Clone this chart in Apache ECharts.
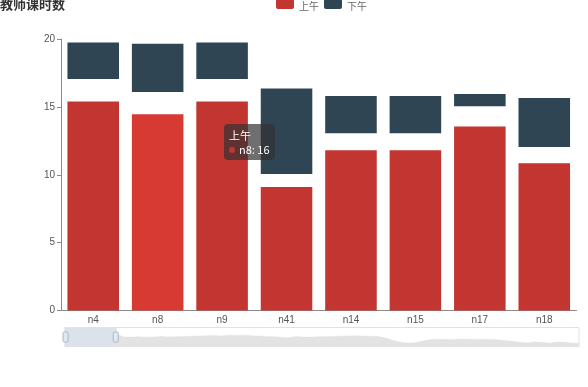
<!DOCTYPE html>
<html>
<head>
<meta charset="utf-8">
<script src="https://cdn.jsdelivr.net/npm/echarts@6/dist/echarts.min.js"></script>
<style>
html,body{margin:0;padding:0;background:#fff;}
#chart{width:588px;height:387px;}
</style>
</head>
<body>
<div id="chart"></div>
<script>
// Teacher names (first 8 visible in the zoom window; the rest only appear in the slider shadow)
const teachers = ['n4','n8','n9','n41','n14','n15','n17','n18',
  'n19','n20','n21','n22','n23','n24','n25','n26','n27','n28','n29',
  'n30','n31','n32','n33','n34','n35','n36','n37','n38','n39','n40',
  'n42','n43','n44','n45','n46','n47','n48','n49','n50','n51','n52',
  'n53','n54','n55','n56','n57','n58','n59','n60','n61','n62','n63',
  'n64','n65','n66','n67','n68','n69','n70','n71','n72','n73','n74',
  'n75','n76','n77','n78','n79','n80','n81'];
// 上午 (morning) values
const morning = [15.4, 14.45, 15.4, 9.1, 11.8, 11.8, 13.55, 10.85,
  8.0, 7.8, 8.2, 7.6, 8.0, 8.4, 7.9, 8.1, 8.5, 8.8, 9.0,
  9.4, 9.8, 9.2, 10.0, 9.6, 9.9, 9.3, 9.0,
  8.6, 8.2, 7.4, 6.8, 8.4,
  8.0, 7.8, 8.1, 8.3,
  8.6, 8.9, 9.1, 9.3, 9.0, 8.8, 8.5,
  6.5, 4.0, 1.5, 0.5, 0.8,
  3.0, 4.8, 5.2,
  5.0, 4.6, 5.4, 5.0, 4.8, 5.2, 4.9, 4.5,
  3.6, 2.6, 1.4, 0.6, 1.8, 1.6,
  0.4, 1.7, 1.8, 0.4, 0.3];
// blank space between the morning and afternoon blocks
const gap = [1.65, 1.65, 1.65, 0.95, 1.25, 1.25, 1.5, 1.2];
// 下午 (afternoon) values
const afternoon = [2.7, 3.55, 2.7, 6.3, 2.75, 2.75, 0.9, 3.6];
const yTicks = [0, 5, 10, 15, 20];
// text shown in the reference's hover tooltip
const tooltipSeries = '上午';
const tooltipCategory = 'n8';
const tooltipValue = 16;

const chart = echarts.init(document.getElementById('chart'));
const axisGrey = '#8a8a8a';
// rounded legend swatch in the upper part of the icon box (tiny point below keeps the box taller)
const legendIcon = 'path://M2,0 h14 a2,2 0 0 1 2,2 v6 a2,2 0 0 1 -2,2 h-14 a2,2 0 0 1 -2,-2 v-6 a2,2 0 0 1 2,-2 Z M9,14 h0.01 v0.01 h-0.01 Z';
const option = {
  animation: false,
  color: ['#c23531', '#2f4554'],
  title: {
    text: '教师课时数', left: 0, top: -2, padding: 0,
    textStyle: {fontSize: 13, fontWeight: 'bold', color: '#333', fontFamily: 'Noto Sans CJK SC'}
  },
  legend: {
    data: [{name: '上午', icon: legendIcon}, {name: '下午', icon: legendIcon}],
    left: 276, top: -1, padding: 0,
    itemWidth: 18, itemHeight: 14, itemGap: 5,
    textStyle: {fontSize: 10, color: '#666', fontFamily: 'Noto Sans CJK SC'}
  },
  tooltip: {
    trigger: 'item', alwaysShowContent: true, transitionDuration: 0,
    position: [224, 124],
    backgroundColor: 'rgba(50,50,50,0.7)', borderWidth: 0, padding: [4, 5],
    extraCssText: 'box-shadow:none;border-radius:4px;',
    textStyle: {color: '#fff', fontSize: 11},
    formatter: function () {
      return '<div style="font-size:11px;line-height:14px;color:#fff;font-family:Noto Sans CJK SC">' +
        tooltipSeries + '<br/><span style="display:inline-block;width:6px;height:6px;border-radius:50%;background:#c23531;margin-right:4px;vertical-align:1px"></span>' +
        tooltipCategory + ': ' + tooltipValue + '</div>';
    }
  },
  grid: {left: 61, right: 11.5, top: 39, bottom: 76.5},
  xAxis: {
    type: 'category', data: teachers,
    axisLine: {lineStyle: {color: axisGrey}},
    axisTick: {length: 4, lineStyle: {color: axisGrey}},
    axisLabel: {fontSize: 10, color: '#555', margin: 5}
  },
  yAxis: {
    type: 'value', min: yTicks[0], max: yTicks[yTicks.length - 1], interval: 5,
    splitLine: {show: false},
    axisLine: {show: true, lineStyle: {color: axisGrey}},
    axisTick: {show: true, length: 4, lineStyle: {color: axisGrey}},
    axisLabel: {fontSize: 10, color: '#555', margin: 6}
  },
  dataZoom: [{
    type: 'slider', xAxisIndex: 0, startValue: 0, endValue: 7,
    left: 62, right: 11, top: 327, height: 20,
    showDetail: false, brushSelect: false, moveHandleSize: 0,
    borderColor: '#e2e2e2', backgroundColor: 'rgba(0,0,0,0)',
    fillerColor: 'rgba(167,183,204,0.4)',
    handleIcon: 'path://M2,0 h4 a2,2 0 0 1 2,2 v12 a2,2 0 0 1 -2,2 h-4 a2,2 0 0 1 -2,-2 v-12 a2,2 0 0 1 2,-2 Z',
    handleSize: '50%',
    handleStyle: {color: '#e4e8ef', borderColor: '#a7b7cc', borderWidth: 1},
    dataBackground: {
      lineStyle: {color: '#dcdcdc', width: 0.5, opacity: 0.7},
      areaStyle: {color: '#e3e3e3', opacity: 1}
    },
    selectedDataBackground: {
      lineStyle: {opacity: 0},
      areaStyle: {opacity: 0}
    }
  }],
  series: [
    {
      name: '上午', type: 'bar', stack: 'total', data: morning, barCategoryGap: '20%',
      itemStyle: {color: '#c23531'},
      emphasis: {focus: 'none', itemStyle: {color: '#d63a33'}}
    },
    {
      name: '间隔', type: 'bar', stack: 'total', data: gap, silent: true,
      itemStyle: {color: 'rgba(0,0,0,0)'}, tooltip: {show: false},
      emphasis: {disabled: true}
    },
    {
      name: '下午', type: 'bar', stack: 'total', data: afternoon,
      itemStyle: {color: '#2f4554'}
    }
  ]
};
chart.setOption(option);
chart.dispatchAction({type: 'highlight', seriesIndex: 0, dataIndex: 1});
chart.dispatchAction({type: 'showTip', seriesIndex: 0, dataIndex: 1});
</script>
</body>
</html>
